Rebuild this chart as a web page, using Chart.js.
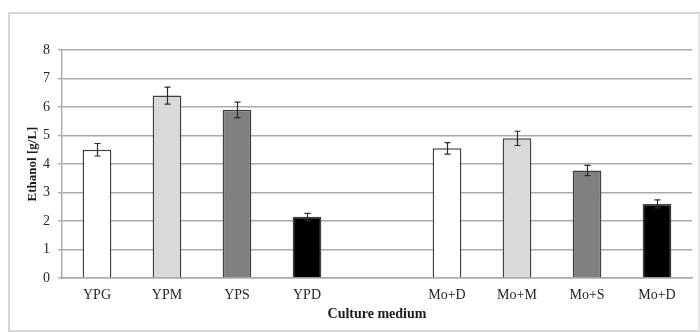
<!DOCTYPE html>
<html>
<head>
<meta charset="utf-8">
<script src="https://cdn.jsdelivr.net/npm/chart.js@4.4.1/dist/chart.umd.min.js"></script>
<style>
  html, body { margin: 0; padding: 0; background: #fff; }
  .wrap { position: relative; width: 700px; height: 332px; }
  .frame {
    position: absolute; left: 8px; top: 12px; width: 688px; height: 316px;
    border: 2px solid #d6d6d6; border-right-color: #e4e4e4;
  }
  #ethanolChart { position: absolute; left: 0; top: 0; }
</style>
</head>
<body>
<div class="wrap">
  <div class="frame"></div>
  <canvas id="ethanolChart" width="700" height="332"></canvas>
</div>
<script>
// --- Ethanol per culture medium ---

const media = ['YPG', 'YPM', 'YPS', 'YPD', '', 'Mo+D', 'Mo+M', 'Mo+S', 'Mo+D'];
const ethanol = [4.5, 6.4, 5.9, 2.15, null, 4.55, 4.9, 3.77, 2.6];
const ethanolErr = [0.22, 0.3, 0.27, 0.12, null, 0.2, 0.25, 0.18, 0.14];
const yTicks = [0, 1, 2, 3, 4, 5, 6, 7, 8];

const fills = ['#ffffff', '#d9d9d9', '#7f7f7f', '#000000', '#ffffff',
               '#ffffff', '#d9d9d9', '#7f7f7f', '#000000'];

const serif = 'Liberation Serif';
const gridGray = '#a9a9a9';

// whisker lines with caps on top of every bar
const errorBars = {
    id: 'errorBars',
    afterDatasetsDraw(chart) {
        const ctx = chart.ctx;
        const y = chart.scales.y;
        const bars = chart.getDatasetMeta(0).data;
        ctx.save();
        ctx.strokeStyle = '#2b2b2b';
        ctx.lineWidth = 1.2;
        bars.forEach(function (bar, i) {
            const v = ethanol[i];
            const e = ethanolErr[i];
            if (v === null || e === null) return;
            const yHi = y.getPixelForValue(v + e);
            const yLo = y.getPixelForValue(v - e);
            const x = Math.round(bar.x) + 0.5;
            ctx.beginPath();
            ctx.moveTo(x, yHi);
            ctx.lineTo(x, yLo);
            ctx.moveTo(x - 3, yHi);
            ctx.lineTo(x + 3, yHi);
            ctx.moveTo(x - 3, yLo);
            ctx.lineTo(x + 3, yLo);
            ctx.stroke();
        });
        ctx.restore();
    }
};

document.addEventListener('DOMContentLoaded', function () {
    let ctx = document.getElementById('ethanolChart').getContext('2d');

    new Chart(ctx, {
        type: 'bar',
        data: {
            labels: media,
            datasets: [{
                label: 'Ethanol',
                data: ethanol,
                backgroundColor: fills,
                borderColor: '#3f3f3f',
                borderWidth: 1.5,
                borderSkipped: 'bottom',
                barPercentage: 0.41,
                categoryPercentage: 1
            }]
        },
        options: {
            responsive: false,
            animation: false,
            layout: { padding: { left: 18, right: 8, top: 50, bottom: 9 } },
            scales: {
                y: {
                    min: 0,
                    max: 8,
                    afterBuildTicks: function (scale) {
                        scale.ticks = yTicks.map(function (v) { return { value: v }; });
                    },
                    afterFit: function (scale) { scale.width = 44; },
                    grid: {
                        color: gridGray,
                        lineWidth: 1.4,
                        drawTicks: true,
                        tickLength: 4
                    },
                    border: { display: true, color: gridGray, width: 1.4 },
                    ticks: {
                        padding: 8,
                        color: '#262626',
                        font: { family: serif, size: 14 }
                    },
                    title: {
                        display: true,
                        text: 'Ethanol [g/L]',
                        color: '#1a1a1a',
                        padding: { top: 7, bottom: 0 },
                        font: { family: serif, size: 13, weight: 'bold' }
                    }
                },
                x: {
                    afterFit: function (scale) { scale.height = 45; },
                    grid: { display: false, drawTicks: false },
                    border: { display: true, color: gridGray, width: 1.4 },
                    ticks: {
                        padding: 8.5,
                        color: '#262626',
                        autoSkip: false,
                        maxRotation: 0,
                        font: { family: serif, size: 14 }
                    },
                    title: {
                        display: true,
                        text: 'Culture medium',
                        color: '#1a1a1a',
                        padding: { top: 0, bottom: 0 },
                        font: { family: serif, size: 14, weight: 'bold' }
                    }
                }
            },
            plugins: {
                legend: { display: false },
                tooltip: { enabled: false }
            }
        },
        plugins: [errorBars]
    });
});
</script>
</body>
</html>
